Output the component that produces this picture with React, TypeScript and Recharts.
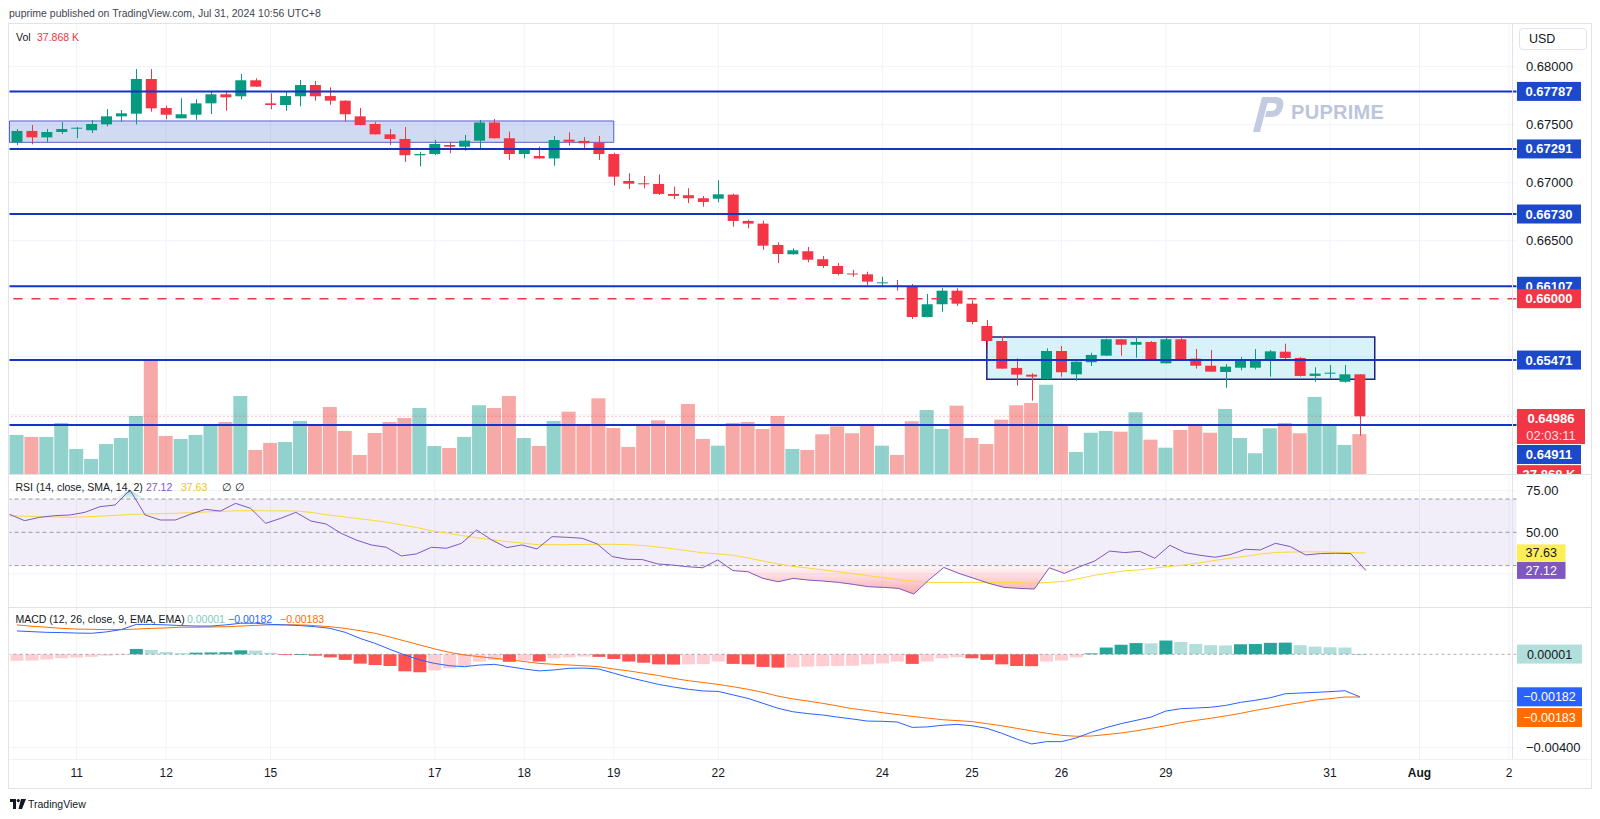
import React from 'react';
import {
  ComposedChart,
  Bar,
  Line,
  Area,
  XAxis,
  YAxis,
  ReferenceLine,
  ReferenceArea,
} from 'recharts';

// 4h candles (index 0 = first candle on the left)
const OPEN = [
  0.67348, 0.67446, 0.67391, 0.67437, 0.67469, 0.67452, 0.67503, 0.67572, 0.67595, 0.67894,
  0.67644, 0.67555, 0.67586, 0.67684, 0.67762, 0.67745, 0.67883, 0.67684, 0.6767, 0.67745,
  0.67842, 0.67747, 0.67707, 0.67572, 0.67506, 0.67417, 0.67377, 0.67236, 0.67247, 0.67325,
  0.6731, 0.67362, 0.67519, 0.67383, 0.67247, 0.6723, 0.67209, 0.67371, 0.6736, 0.67345,
  0.67247, 0.67015, 0.66995, 0.66989, 0.66903, 0.66892, 0.66866, 0.66862, 0.66897, 0.6667,
  0.66647, 0.66463, 0.66383, 0.66409, 0.6634, 0.66282, 0.66217, 0.6621, 0.66138, 0.66112,
  0.66103, 0.65842, 0.65952, 0.66069, 0.65957, 0.65765, 0.65635, 0.65403, 0.65345, 0.65305,
  0.65549, 0.65348, 0.65452, 0.65509, 0.6565, 0.65603, 0.65627, 0.65443, 0.6565, 0.65483,
  0.65422, 0.65368, 0.65405, 0.65405, 0.65466, 0.65543, 0.65489, 0.65334, 0.65357, 0.65284,
  0.65348,
];
const HIGH = [
  0.67463, 0.67497, 0.67463, 0.67523, 0.6748, 0.67541, 0.67635, 0.67627, 0.6798, 0.6798,
  0.67664, 0.67728, 0.67719, 0.67784, 0.67793, 0.67937, 0.679, 0.67771, 0.67784, 0.67885,
  0.67877, 0.67822, 0.6771, 0.67644, 0.67523, 0.67463, 0.6748, 0.67267, 0.67368, 0.67353,
  0.67411, 0.67541, 0.67549, 0.6744, 0.6729, 0.6731, 0.67403, 0.67434, 0.67394, 0.67403,
  0.67258, 0.67081, 0.67058, 0.67072, 0.66966, 0.66952, 0.66885, 0.6702, 0.66905, 0.66681,
  0.66672, 0.66486, 0.66434, 0.66446, 0.66368, 0.66308, 0.66248, 0.66233, 0.6619, 0.66161,
  0.66127, 0.66041, 0.6609, 0.6609, 0.65986, 0.65817, 0.65678, 0.65486, 0.65357, 0.65572,
  0.65592, 0.6546, 0.65534, 0.65655, 0.65652, 0.65672, 0.65635, 0.65664, 0.65664, 0.65566,
  0.65558, 0.65437, 0.65497, 0.65566, 0.65558, 0.65612, 0.65495, 0.65409, 0.65428, 0.65428,
  0.6535,
];
const LOW = [
  0.67325, 0.67331, 0.67348, 0.6742, 0.67383, 0.67428, 0.67486, 0.67526, 0.67503, 0.67612,
  0.67547, 0.67555, 0.67543, 0.67592, 0.67621, 0.67719, 0.67825, 0.67633, 0.67621, 0.67659,
  0.67707, 0.67672, 0.67526, 0.67495, 0.67415, 0.67325, 0.67179, 0.67141, 0.67238, 0.67253,
  0.67276, 0.67281, 0.6738, 0.67196, 0.67209, 0.67207, 0.67146, 0.67319, 0.67291, 0.67196,
  0.66974, 0.66946, 0.66952, 0.66894, 0.6686, 0.66825, 0.66793, 0.66831, 0.66621, 0.66607,
  0.66422, 0.66308, 0.6638, 0.66314, 0.66265, 0.66202, 0.6619, 0.66118, 0.66109, 0.66069,
  0.65825, 0.6584, 0.65888, 0.65937, 0.65779, 0.65564, 0.65395, 0.6525, 0.65121, 0.65303,
  0.65328, 0.65293, 0.6542, 0.65507, 0.65509, 0.65491, 0.65464, 0.65441, 0.65472, 0.65397,
  0.65369, 0.65233, 0.65383, 0.65391, 0.65328, 0.65466, 0.65328, 0.65284, 0.65314, 0.65276,
  0.64819,
];
const CLOSE = [
  0.67446, 0.67391, 0.67437, 0.67463, 0.67474, 0.67506, 0.67572, 0.67598, 0.67894, 0.67641,
  0.67586, 0.6759, 0.67684, 0.67762, 0.67736, 0.67883, 0.67828, 0.6767, 0.67747, 0.67842,
  0.67745, 0.67707, 0.6759, 0.67497, 0.67417, 0.67377, 0.67237, 0.67247, 0.67334, 0.6731,
  0.67362, 0.67519, 0.67383, 0.67247, 0.67288, 0.67209, 0.67368, 0.67353, 0.6734, 0.67247,
  0.67052, 0.66991, 0.66986, 0.66903, 0.66886, 0.66866, 0.66834, 0.669, 0.6667, 0.66647,
  0.66457, 0.66385, 0.66417, 0.66336, 0.66282, 0.66213, 0.66209, 0.66147, 0.66141, 0.66109,
  0.65842, 0.65952, 0.66069, 0.65957, 0.65799, 0.65635, 0.65397, 0.65345, 0.65328, 0.65549,
  0.65366, 0.65457, 0.65515, 0.6565, 0.65603, 0.65627, 0.65466, 0.6565, 0.65478, 0.65422,
  0.65371, 0.65414, 0.65478, 0.65466, 0.65546, 0.65489, 0.65334, 0.65354, 0.65362, 0.65348,
  0.64986,
];
// volume in thousands
const VOLUME = [
  37.1, 35.2, 35.2, 48.5, 23.8, 14.3, 28.5, 34.2, 55.1, 107.6,
  36.1, 33.3, 37.1, 45.9, 49.4, 74.1, 22.8, 29.5, 30.4, 50.4,
  46.6, 63.7, 40.9, 18.1, 39.0, 49.4, 53.2, 62.7, 26.6, 24.7,
  35.2, 65.3, 62.7, 74.1, 34.2, 26.6, 50.4, 59.2, 47.5, 71.9,
  43.7, 25.7, 46.6, 51.0, 45.6, 66.5, 33.3, 26.9, 48.5, 49.4,
  42.8, 55.1, 23.8, 22.8, 37.7, 45.3, 38.7, 47.5, 26.9, 18.1,
  50.1, 60.8, 42.8, 64.9, 34.2, 28.5, 51.6, 65.3, 67.5, 84.8,
  46.3, 20.9, 39.2, 40.9, 40.2, 58.6, 32.6, 25.0, 41.8, 45.6,
  39.2, 61.8, 34.2, 19.7, 43.4, 48.5, 38.7, 73.2, 46.3, 27.6,
  37.868,
];
const RSI = [
  60.8, 57.0, 59.0, 60.0, 60.4, 62.0, 65.4, 66.4, 75.4, 60.4,
  57.4, 57.4, 60.8, 63.8, 62.8, 67.4, 64.4, 55.4, 58.4, 62.0,
  56.8, 55.0, 49.4, 45.4, 42.4, 41.0, 35.8, 37.0, 41.0, 40.4,
  43.4, 51.4, 45.4, 40.8, 42.4, 40.0, 47.4, 47.0, 46.4, 43.0,
  35.4, 33.8, 33.6, 31.0, 30.3, 29.3, 28.7, 33.4, 27.0, 26.3,
  22.3, 20.3, 22.3, 21.3, 20.7, 19.9, 18.7, 17.3, 16.9, 16.3,
  12.9, 21.3, 28.9, 25.3, 22.3, 19.3, 16.9, 16.3, 15.9, 28.7,
  25.3, 29.3, 32.7, 38.7, 37.8, 38.6, 34.4, 42.2, 37.8, 36.2,
  35.0, 36.6, 39.8, 39.4, 43.4, 41.4, 36.4, 37.2, 37.4, 37.2,
  27.12,
];
const RSI_MA = [
  59.9, 59.7, 59.4, 59.2, 59.0, 59.3, 59.7, 60.2, 60.7, 61.0,
  61.2, 61.4, 61.8, 62.2, 62.6, 62.9, 63.0, 62.9, 62.9, 62.8,
  62.0, 60.6, 59.5, 58.4, 57.3, 56.1, 54.5, 52.9, 51.0, 49.6,
  48.1, 46.7, 45.6, 44.4, 43.6, 42.6, 42.5, 42.6, 42.7, 42.8,
  42.8, 42.6, 42.1, 41.2, 40.1, 38.9, 37.7, 37.0, 36.2, 34.6,
  32.7, 31.0, 29.5, 28.5, 27.4, 26.3, 25.1, 23.9, 22.8, 21.5,
  20.6, 19.9, 19.9, 19.9, 19.9, 19.9, 19.9, 19.7, 19.4, 19.9,
  20.5, 22.2, 24.2, 25.6, 26.8, 27.5, 28.5, 29.5, 30.4, 31.7,
  33.1, 34.4, 35.6, 36.9, 37.9, 38.1, 38.3, 38.2, 38.0, 37.8,
  37.63,
];
const MACD = [
  0.001, 0.00097, 0.00094, 0.00093, 0.00091, 0.0009, 0.00096, 0.00106, 0.00128, 0.00128,
  0.00126, 0.00123, 0.00121, 0.00121, 0.00126, 0.00133, 0.00133, 0.00128, 0.00126, 0.00123,
  0.00118, 0.00111, 0.00094, 0.00068, 0.00047, 0.00021, -0.00003, -0.00024, -0.00039, -0.00049,
  -0.00053, -0.00046, -0.00043, -0.00053, -0.00063, -0.00071, -0.00067, -0.0006, -0.00059, -0.00063,
  -0.00081, -0.00099, -0.00114, -0.00129, -0.0014, -0.0015, -0.00157, -0.00159, -0.00174, -0.00189,
  -0.0021, -0.00231, -0.00246, -0.00254, -0.0026, -0.00269, -0.00277, -0.00286, -0.00287, -0.0029,
  -0.00313, -0.00311, -0.00304, -0.003, -0.00306, -0.00317, -0.00338, -0.00363, -0.00384, -0.00374,
  -0.00374, -0.00358, -0.00334, -0.00314, -0.00297, -0.00283, -0.00269, -0.00243, -0.00233, -0.0023,
  -0.00227, -0.00219, -0.00206, -0.00197, -0.00186, -0.00169, -0.00166, -0.00163, -0.0016, -0.00156,
  -0.00182,
];
const SIGNAL = [
  0.00126, 0.0012, 0.00116, 0.00111, 0.00108, 0.00107, 0.00106, 0.00106, 0.00108, 0.00111,
  0.00113, 0.00116, 0.00116, 0.00117, 0.00118, 0.00121, 0.00124, 0.00126, 0.00126, 0.00126,
  0.00123, 0.00118, 0.00111, 0.00101, 0.0009, 0.00074, 0.00057, 0.0004, 0.00023, 0.00008,
  -0.00003, -0.0001, -0.00017, -0.00024, -0.00031, -0.00039, -0.00043, -0.00046, -0.00049, -0.00053,
  -0.00063, -0.00071, -0.00081, -0.00091, -0.00103, -0.00113, -0.00121, -0.00129, -0.00139, -0.0015,
  -0.00163, -0.00179, -0.00191, -0.002, -0.0021, -0.00221, -0.00233, -0.00241, -0.0025, -0.00258,
  -0.00266, -0.00273, -0.0028, -0.00284, -0.00288, -0.00297, -0.00306, -0.00317, -0.00328, -0.00338,
  -0.00347, -0.00351, -0.0035, -0.00344, -0.00337, -0.00328, -0.00317, -0.00306, -0.00293, -0.00283,
  -0.00274, -0.00264, -0.00253, -0.0024, -0.00229, -0.00217, -0.00207, -0.00196, -0.0019, -0.00183,
  -0.00183,
];
const HIST = [
  -0.00028, -0.00027, -0.00022, -0.00017, -0.00014, -0.00011, -0.00006, -0.00003, 0.00023, 0.00019,
  0.0001, 0.00005, 0.00007, 0.00008, 0.00009, 0.00017, 0.00016, 0.00006, -0.00002, 0.00001,
  -0.00006, -0.00013, -0.00024, -0.0004, -0.00046, -0.0005, -0.00073, -0.00077, -0.00069, -0.0006,
  -0.0005, -0.00031, -0.00024, -0.00032, -0.00027, -0.00031, -0.00017, -0.00013, -0.0001, -0.00011,
  -0.0002, -0.00031, -0.00036, -0.00043, -0.00044, -0.00043, -0.00042, -0.00031, -0.00041, -0.00043,
  -0.00054, -0.00057, -0.00056, -0.00053, -0.00051, -0.0005, -0.00049, -0.00043, -0.00039, -0.00031,
  -0.00041, -0.00031, -0.00017, -0.00013, -0.00017, -0.00024, -0.00043, -0.0005, -0.00051, -0.00031,
  -0.00027, -0.00013, 0.00004, 0.00029, 0.00041, 0.00048, 0.00047, 0.00059, 0.00053, 0.00044,
  0.00039, 0.00038, 0.00043, 0.00044, 0.00049, 0.0005, 0.00039, 0.00033, 0.0003, 0.00029,
  0.00001,
];

const SLOTS = 101; // candles + empty space up to the price scale
const DATE_TICKS = [4, 10, 17, 28, 34, 40, 47, 58, 64, 70, 77, 88, 94, 100];
const DATE_LABELS = ['11', '12', '15', '17', '18', '19', '22', '24', '25', '26', '29', '31', 'Aug', '2'];
const LEVELS = [0.67787, 0.67291, 0.6673, 0.66107, 0.65471, 0.64911];
const PRICE_TICKS = [0.68, 0.675, 0.67, 0.665];
const PRICE_GRID = [0.68, 0.675, 0.67, 0.665, 0.66, 0.655, 0.65];

const FONT = '"Liberation Sans", Arial, sans-serif';
const GREEN = '#089981';
const RED = '#f23645';
const GRID = '#f0f3fa';
const BORDER = '#e0e3eb';
const TEXT = '#131722';
const LINE_BLUE = '#1533c7';
const TAG_BLUE = '#1b49c9';
const MARGIN = { top: 0, right: 0, bottom: 0, left: 9.5 };
const AXIS_W = 83.5;

const rows = Array.from({ length: SLOTS }, (_, i) => {
  if (i >= CLOSE.length) return { i };
  const h = HIST[i];
  const prev = i > 0 ? HIST[i - 1] : h;
  const histColor = h >= 0 ? (h > prev ? '#26a69a' : '#b2dfdb') : h < prev ? '#ff5252' : '#ffcdd2';
  return {
    i,
    open: OPEN[i],
    high: HIGH[i],
    low: LOW[i],
    close: CLOSE[i],
    vol: VOLUME[i],
    rsi: RSI[i],
    rsiMa: RSI_MA[i],
    macd: MACD[i],
    signal: SIGNAL[i],
    hist: h,
    histColor,
  };
});

const candleRange = (d: any) => (d.low == null ? null : [d.low, d.high]);
const oversold = (d: any) => (d.rsi == null ? null : [Math.min(d.rsi, 30), 30]);
const overbought = (d: any) => (d.rsi == null ? null : [70, Math.max(d.rsi, 70)]);

const Candle = (p: any) => {
  const d = p.payload;
  if (!d || d.open == null) return <g />;
  const { x, y, width, height } = p;
  const span = d.high - d.low || 1e-9;
  const toY = (v: number) => y + ((d.high - v) / span) * height;
  const top = toY(Math.max(d.open, d.close));
  const bot = toY(Math.min(d.open, d.close));
  const color = d.close >= d.open ? GREEN : RED;
  const cx = Math.round(x + width / 2) + 0.5;
  return (
    <g>
      <line x1={cx} x2={cx} y1={y} y2={y + height} stroke={color} strokeWidth={1} />
      <rect x={x} y={top} width={width} height={Math.max(1, bot - top)} fill={color} />
    </g>
  );
};

const VolBar = (p: any) => {
  const d = p.payload;
  if (!d || d.vol == null) return <g />;
  const fill = d.close >= d.open ? 'rgba(38,166,154,0.5)' : 'rgba(239,83,80,0.5)';
  return <rect x={p.x} y={p.y} width={p.width} height={Math.max(0, p.height)} fill={fill} />;
};

const HistBar = (p: any) => {
  const d = p.payload;
  if (!d || d.hist == null) return <g />;
  const top = Math.min(p.y, p.y + p.height);
  return <rect x={p.x} y={top} width={p.width} height={Math.max(0.8, Math.abs(p.height))} fill={d.histColor} />;
};

interface TagSpec {
  text: string;
  sub?: string;
  bg: string;
  fg?: string;
  top?: number;
  w?: number;
  h?: number;
  bold?: boolean;
  size?: number;
}

const tag = (s: TagSpec) => (props: any) => {
  const vb = props.viewBox || { x: 0, y: 0, width: 0 };
  const x = vb.x + vb.width + 0.5;
  const h = s.h ?? 19;
  const w = s.w ?? 64;
  const top = vb.y + (s.top ?? -h / 2);
  return (
    <g>
      <rect x={x} y={top} width={w} height={h} fill={s.bg} />
      <text
        x={x + w / 2}
        y={top + (s.sub ? 14 : h / 2 + 4.5)}
        textAnchor="middle"
        fill={s.fg ?? '#fff'}
        fontSize={s.size ?? 13}
        fontWeight={s.bold ? 700 : 400}
        fontFamily={FONT}
      >
        {s.text}
      </text>
      {s.sub && (
        <text x={x + w / 2} y={top + 31} textAnchor="middle" fill="#fff" fontSize={13} fontFamily={FONT} opacity={0.85}>
          {s.sub}
        </text>
      )}
    </g>
  );
};

const axisTick = (fmt: (v: number) => string) => (p: any) => (
  <text x={p.x + 9.5} y={p.y} dy={4.5} fontSize={13} fill={TEXT} fontFamily={FONT}>
    {fmt(p.payload.value)}
  </text>
);

const DateTick = (p: any) => {
  const k = DATE_TICKS.indexOf(p.payload.value);
  if (k < 0) return <g />;
  const t = DATE_LABELS[k];
  return (
    <text x={p.x} y={p.y + 18} textAnchor="middle" fontSize={12} fontWeight={t === 'Aug' ? 700 : 400} fill={TEXT} fontFamily={FONT}>
      {t}
    </text>
  );
};

const minus = (v: number, digits: number) => v.toFixed(digits).replace('-', '\u2212');

const vGrid = (yId: string) =>
  DATE_TICKS.map((t) => (
    <ReferenceLine key={'vg' + t} xAxisId="n" yAxisId={yId} x={t} stroke={GRID} zIndex={-100} />
  ));

const hLine = (top: number, left = 8, width = 1584, color = BORDER) => (
  <div style={{ position: 'absolute', left, top, width, height: 1, background: color }} />
);

const legend = (left: number, top: number, text: string, color = TEXT) => (
  <div style={{ position: 'absolute', left, top, fontSize: 10.5, color, whiteSpace: 'nowrap', lineHeight: '12px' }}>{text}</div>
);

export default function App() {
  return (
    <div
      style={{
        position: 'absolute',
        left: 0,
        top: 0,
        width: 1600,
        height: 819,
        background: '#fff',
        fontFamily: FONT,
        overflow: 'hidden',
      }}
    >
      <div style={{ position: 'absolute', left: 9, top: 7, fontSize: 10.5, color: '#434651', whiteSpace: 'nowrap' }}>
        puprime published on TradingView.com, Jul 31, 2024 10:56 UTC+8
      </div>

      {/* price + volume */}
      <div style={{ position: 'absolute', left: 0, top: 24, width: 1600, height: 450, background: '#fff' }}>
        <ComposedChart width={1600} height={450} data={rows} margin={MARGIN}>
          <XAxis xAxisId="c" dataKey="i" type="category" hide />
          <XAxis xAxisId="cv" dataKey="i" type="category" hide />
          <XAxis xAxisId="n" dataKey="i" type="number" domain={[-0.5, SLOTS - 0.5]} allowDataOverflow hide />
          <YAxis
            yAxisId="p"
            orientation="right"
            width={AXIS_W}
            domain={[0.644886, 0.683681]}
            allowDataOverflow
            ticks={PRICE_TICKS}
            tick={axisTick((v) => v.toFixed(5))}
            tickSize={0}
            tickMargin={0}
            axisLine={false}
            tickLine={false}
          />
          <YAxis yAxisId="v" domain={[0, 427.5]} allowDataOverflow hide />
          {PRICE_GRID.map((v) => (
            <ReferenceLine key={'hg' + v} xAxisId="n" yAxisId="p" y={v} stroke={GRID} zIndex={-100} />
          ))}
          {vGrid('p')}
          <ReferenceArea
            xAxisId="n"
            yAxisId="p"
            x1={-0.5}
            x2={40}
            y1={0.67348}
            y2={0.67532}
            fill="rgba(67,107,207,0.25)"
            fillOpacity={1}
            stroke="#5b5fc7"
            strokeWidth={1}
          />
          <ReferenceArea
            xAxisId="n"
            yAxisId="p"
            x1={65}
            x2={91}
            y1={0.65305}
            y2={0.6567}
            fill="rgba(60,195,220,0.2)"
            fillOpacity={1}
            stroke="#1c2188"
            strokeWidth={1.5}
          />
          <Bar xAxisId="cv" yAxisId="v" dataKey="vol" barSize={14} shape={VolBar} isAnimationActive={false} />
          <Bar xAxisId="c" yAxisId="p" dataKey={candleRange} barSize={11} shape={Candle} isAnimationActive={false} />
          <ReferenceLine
            xAxisId="n"
            yAxisId="p"
            y={0.64986}
            stroke={RED}
            strokeOpacity={0.6}
            strokeDasharray="1 3"
            label={tag({ text: '0.64986', sub: '02:03:11', bg: RED, bold: true, top: -7.3, h: 35, w: 68 })}
          />
          {LEVELS.map((v) => (
            <ReferenceLine
              key={'lv' + v}
              xAxisId="n"
              yAxisId="p"
              y={v}
              stroke={LINE_BLUE}
              strokeWidth={2}
              label={tag({ text: v.toFixed(5), bg: TAG_BLUE, bold: true, top: v === 0.64911 ? 20 : undefined })}
            />
          ))}
          <ReferenceLine
            xAxisId="n"
            yAxisId="p"
            y={0.66}
            stroke={RED}
            strokeWidth={1.5}
            strokeDasharray="9 9"
            label={tag({ text: '0.66000', bg: RED, bold: true })}
          />
          <ReferenceLine
            xAxisId="n"
            yAxisId="v"
            y={37.868}
            stroke="none"
            label={tag({ text: '37.868 K', bg: RED, bold: true, top: 31 })}
          />
        </ComposedChart>
      </div>

      {/* RSI */}
      <div style={{ position: 'absolute', left: 0, top: 475, width: 1600, height: 132, background: '#fff' }}>
        <ComposedChart width={1600} height={132} data={rows} margin={MARGIN}>
          <defs>
            <linearGradient id="rsiOs" x1="0" y1="0" x2="0" y2="1">
              <stop offset="0%" stopColor={RED} stopOpacity={0.04} />
              <stop offset="100%" stopColor={RED} stopOpacity={0.42} />
            </linearGradient>
            <linearGradient id="rsiOb" x1="0" y1="1" x2="0" y2="0">
              <stop offset="0%" stopColor={GREEN} stopOpacity={0.04} />
              <stop offset="100%" stopColor={GREEN} stopOpacity={0.42} />
            </linearGradient>
          </defs>
          <XAxis xAxisId="c" dataKey="i" type="category" hide />
          <XAxis xAxisId="n" dataKey="i" type="number" domain={[-0.5, SLOTS - 0.5]} allowDataOverflow hide />
          <YAxis
            yAxisId="r"
            orientation="right"
            width={AXIS_W}
            domain={[5.11, 84.44]}
            allowDataOverflow
            ticks={[50, 75]}
            tick={axisTick((v) => v.toFixed(2))}
            tickSize={0}
            tickMargin={0}
            axisLine={false}
            tickLine={false}
          />
          {[75, 25].map((v) => (
            <ReferenceLine key={'rg' + v} xAxisId="n" yAxisId="r" y={v} stroke={GRID} zIndex={-100} />
          ))}
          {vGrid('r')}
          <ReferenceArea xAxisId="n" yAxisId="r" x1={-0.5} x2={SLOTS - 0.5} y1={30} y2={70} fill="#7e57c2" fillOpacity={0.1} />
          {[70, 50, 30].map((v) => (
            <ReferenceLine key={'rb' + v} xAxisId="n" yAxisId="r" y={v} stroke="#787b86" strokeOpacity={0.75} strokeDasharray="4 3" />
          ))}
          <Area xAxisId="c" yAxisId="r" dataKey={oversold} stroke="none" fill="url(#rsiOs)" fillOpacity={1} isAnimationActive={false} />
          <Area xAxisId="c" yAxisId="r" dataKey={overbought} stroke="none" fill="url(#rsiOb)" fillOpacity={1} isAnimationActive={false} />
          <Line xAxisId="c" yAxisId="r" dataKey="rsiMa" stroke="#fdd835" strokeWidth={1} dot={false} isAnimationActive={false} />
          <Line xAxisId="c" yAxisId="r" dataKey="rsi" stroke="#7e57c2" strokeWidth={1} dot={false} isAnimationActive={false} />
          <ReferenceLine
            xAxisId="n"
            yAxisId="r"
            y={37.63}
            stroke="none"
            label={tag({ text: '37.63', bg: '#fdee55', fg: TEXT, w: 48.5, h: 17, size: 12.5 })}
          />
          <ReferenceLine
            xAxisId="n"
            yAxisId="r"
            y={27.12}
            stroke="none"
            label={tag({ text: '27.12', bg: '#7e57c2', w: 48.5, h: 17, size: 12.5 })}
          />
        </ComposedChart>
      </div>

      {/* MACD + time scale */}
      <div style={{ position: 'absolute', left: 0, top: 608, width: 1600, height: 180, background: '#fff' }}>
        <ComposedChart width={1600} height={180} data={rows} margin={MARGIN}>
          <XAxis
            xAxisId="c"
            dataKey="i"
            type="category"
            interval={0}
            height={29}
            tick={DateTick}
            tickSize={0}
            tickMargin={0}
            axisLine={false}
            tickLine={false}
          />
          <XAxis xAxisId="n" dataKey="i" type="number" domain={[-0.5, SLOTS - 0.5]} allowDataOverflow hide />
          <YAxis
            yAxisId="m"
            orientation="right"
            width={AXIS_W}
            domain={[-0.004484, 0.001983]}
            allowDataOverflow
            ticks={[-0.004]}
            tick={axisTick((v) => minus(v, 5))}
            tickSize={0}
            tickMargin={0}
            axisLine={false}
            tickLine={false}
          />
          {[-0.002, -0.004].map((v) => (
            <ReferenceLine key={'mg' + v} xAxisId="n" yAxisId="m" y={v} stroke={GRID} zIndex={-100} />
          ))}
          {vGrid('m')}
          <ReferenceLine xAxisId="n" yAxisId="m" y={0} stroke="#787b86" strokeOpacity={0.6} strokeDasharray="3 3" />
          <Bar xAxisId="c" yAxisId="m" dataKey="hist" barSize={13} shape={HistBar} isAnimationActive={false} />
          <Line xAxisId="c" yAxisId="m" dataKey="signal" stroke="#ff6d00" strokeWidth={1} dot={false} isAnimationActive={false} />
          <Line xAxisId="c" yAxisId="m" dataKey="macd" stroke="#2962ff" strokeWidth={1} dot={false} isAnimationActive={false} />
          <ReferenceLine
            xAxisId="n"
            yAxisId="m"
            y={0.00001}
            stroke="none"
            label={tag({ text: '0.00001', bg: '#b2dfdb', fg: TEXT, w: 65, size: 12.5 })}
          />
          <ReferenceLine
            xAxisId="n"
            yAxisId="m"
            y={-0.00182}
            stroke="none"
            label={tag({ text: minus(-0.00182, 5), bg: '#2962ff', w: 65, size: 12.5 })}
          />
          <ReferenceLine
            xAxisId="n"
            yAxisId="m"
            y={-0.00183}
            stroke="none"
            label={tag({ text: minus(-0.00183, 5), bg: '#ff6d00', w: 65, size: 12.5, top: 11 })}
          />
        </ComposedChart>
      </div>

      {/* legends */}
      {legend(16, 31, 'Vol')}
      {legend(37, 31, '37.868 K', '#f23645')}
      {legend(15.5, 481, 'RSI (14, close, SMA, 14, 2)')}
      {legend(146, 481, '27.12', '#7e57c2')}
      {legend(181, 481, '37.63', '#e8c61a')}
      {legend(222, 481, '\u2205', '#131722')}
      {legend(235, 481, '\u2205', '#131722')}
      {legend(15.5, 613, 'MACD (12, 26, close, 9, EMA, EMA)')}
      {legend(187, 613, '0.00001', '#80cbc4')}
      {legend(228, 613, '\u22120.00182', '#2962ff')}
      {legend(280, 613, '\u22120.00183', '#ff6d00')}

      {/* USD box */}
      <div
        style={{
          position: 'absolute',
          left: 1519,
          top: 28,
          width: 68,
          height: 22,
          border: `1px solid ${BORDER}`,
          borderRadius: 4,
          boxSizing: 'border-box',
          fontSize: 12.5,
          color: TEXT,
          lineHeight: '20px',
          paddingLeft: 9,
        }}
      >
        USD
      </div>

      {/* PU Prime watermark */}
      <svg style={{ position: 'absolute', left: 1250, top: 95 }} width={36} height={38} viewBox="0 0 36 38">
        <path d="M3 37 L12 2 L19 2 L10 37 Z" fill="#c3cbe0" />
        <path d="M16 2 L26 2 Q35 2 33 12 Q31 22 21 22 L15 22 L16.6 16 L21 16 Q25.5 16 26.4 12 Q27.2 8 23 8 L14.5 8 Z" fill="#c3cbe0" />
      </svg>
      <div
        style={{
          position: 'absolute',
          left: 1291,
          top: 101,
          fontSize: 20,
          fontWeight: 700,
          color: '#bcc5da',
          letterSpacing: 0.3,
          lineHeight: '22px',
        }}
      >
        PUPRIME
      </div>

      {/* frame and pane separators */}
      {hLine(23)}
      {hLine(474)}
      {hLine(607)}
      {hLine(759, 8, 1584, '#eef0f4')}
      {hLine(788)}
      <div style={{ position: 'absolute', left: 8, top: 23, width: 1, height: 766, background: BORDER }} />
      <div style={{ position: 'absolute', left: 1591, top: 23, width: 1, height: 766, background: BORDER }} />
      <div style={{ position: 'absolute', left: 1512, top: 23, width: 1, height: 736, background: BORDER }} />

      {/* footer */}
      <svg style={{ position: 'absolute', left: 10, top: 799 }} width={16} height={10} viewBox="0 0 16 10">
        <path d="M0 0 H6 V10 H3 V3 H0 Z" fill={TEXT} />
        <circle cx={8.3} cy={1.6} r={1.6} fill={TEXT} />
        <path d="M11 0 H16 L12 10 H8.5 Z" fill={TEXT} />
      </svg>
      <div style={{ position: 'absolute', left: 28, top: 798, fontSize: 10.5, color: TEXT, lineHeight: '12px' }}>
        TradingView
      </div>
    </div>
  );
}
